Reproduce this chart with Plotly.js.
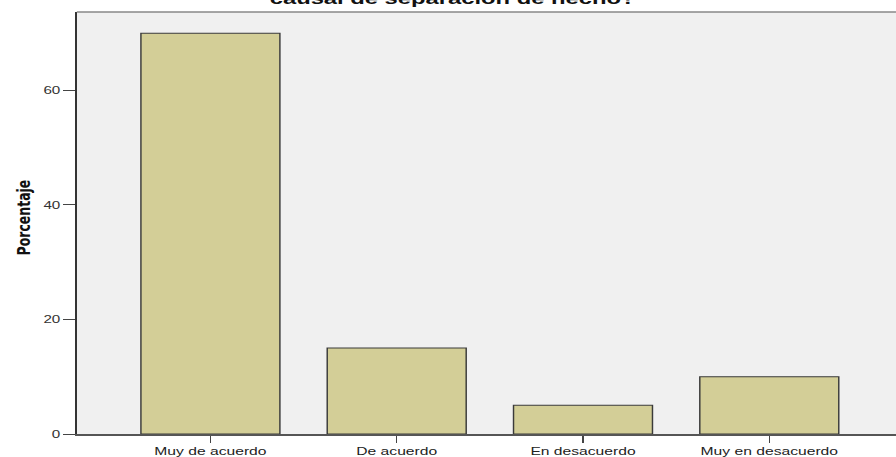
<!DOCTYPE html>
<html>
<head>
<meta charset="utf-8">
<script src="https://cdn.plot.ly/plotly-3.0.1.min.js"></script>
<style>
html,body{margin:0;padding:0;background:#fff;overflow:hidden;}
#wrap{width:896px;height:457px;overflow:hidden;}
#chart{width:618px;height:457px;transform:scaleX(1.4498);transform-origin:0 0;}
</style>
</head>
<body>
<div id="wrap"><div id="chart"></div></div>
<script>
const categories = ["Muy de acuerdo", "De acuerdo", "En desacuerdo", "Muy en desacuerdo"];
const porcentajes = [70, 15, 5, 10];
const yTickVals = [0, 20, 40, 60];
const titleText = "causal de separación de hecho?";
const yTitle = "Porcentaje";

const W = 618, L = 53;

const trace = {
  type: "bar",
  x: categories,
  y: porcentajes,
  width: 0.746,
  marker: {color: "#D3CE97", line: {color: "#3a3a3a", width: 1}},
  hoverinfo: "none"
};

const layout = {
  width: W, height: 457,
  margin: {l: L, r: 0, t: 12, b: 23, pad: 0},
  paper_bgcolor: "#ffffff",
  plot_bgcolor: "#F0F0F0",
  showlegend: false,
  font: {family: "Liberation Sans, Arial, sans-serif", size: 11, color: "#333"},
  xaxis: {
    type: "category",
    range: [-0.717, 3.68],
    showgrid: false, zeroline: false,
    showline: true, linecolor: "#555", linewidth: 1.5,
    ticks: "outside", ticklen: 7, tickcolor: "#444", tickwidth: 1,
    tickfont: {size: 10.8, color: "#222"},
    fixedrange: true
  },
  yaxis: {
    range: [0, 73.7],
    tickvals: yTickVals,
    showgrid: false, zeroline: false,
    showline: true, linecolor: "#333", linewidth: 1.3,
    ticks: "outside", ticklen: 8, tickcolor: "#444", tickwidth: 1,
    tickfont: {size: 10.5, color: "#333"},
    fixedrange: true
  },
  shapes: [
    {type: "line", xref: "paper", yref: "paper", x0: 0, x1: 1, y0: 1, y1: 1, line: {color: "#888", width: 1.5}}
  ],
  annotations: [
    {text: "<b>" + titleText + "</b>", xref: "paper", yref: "paper", x: (312.4 - L) / (W - L), y: 1,
     xanchor: "center", yanchor: "bottom", yshift: 3, showarrow: false,
     font: {family: "Liberation Sans, Arial, sans-serif", size: 16.4, color: "#111"}},
    {text: "<b>" + yTitle + "</b>", xref: "paper", yref: "paper", x: (15.5 - L) / (W - L), y: (457 - 23 - 218) / 422,
     xanchor: "center", yanchor: "middle", textangle: -90, showarrow: false,
     font: {family: "DejaVu Sans, sans-serif", size: 12.5, color: "#111"}}
  ]
};

Plotly.newPlot("chart", [trace], layout, {displayModeBar: false, staticPlot: true});
</script>
</body>
</html>
